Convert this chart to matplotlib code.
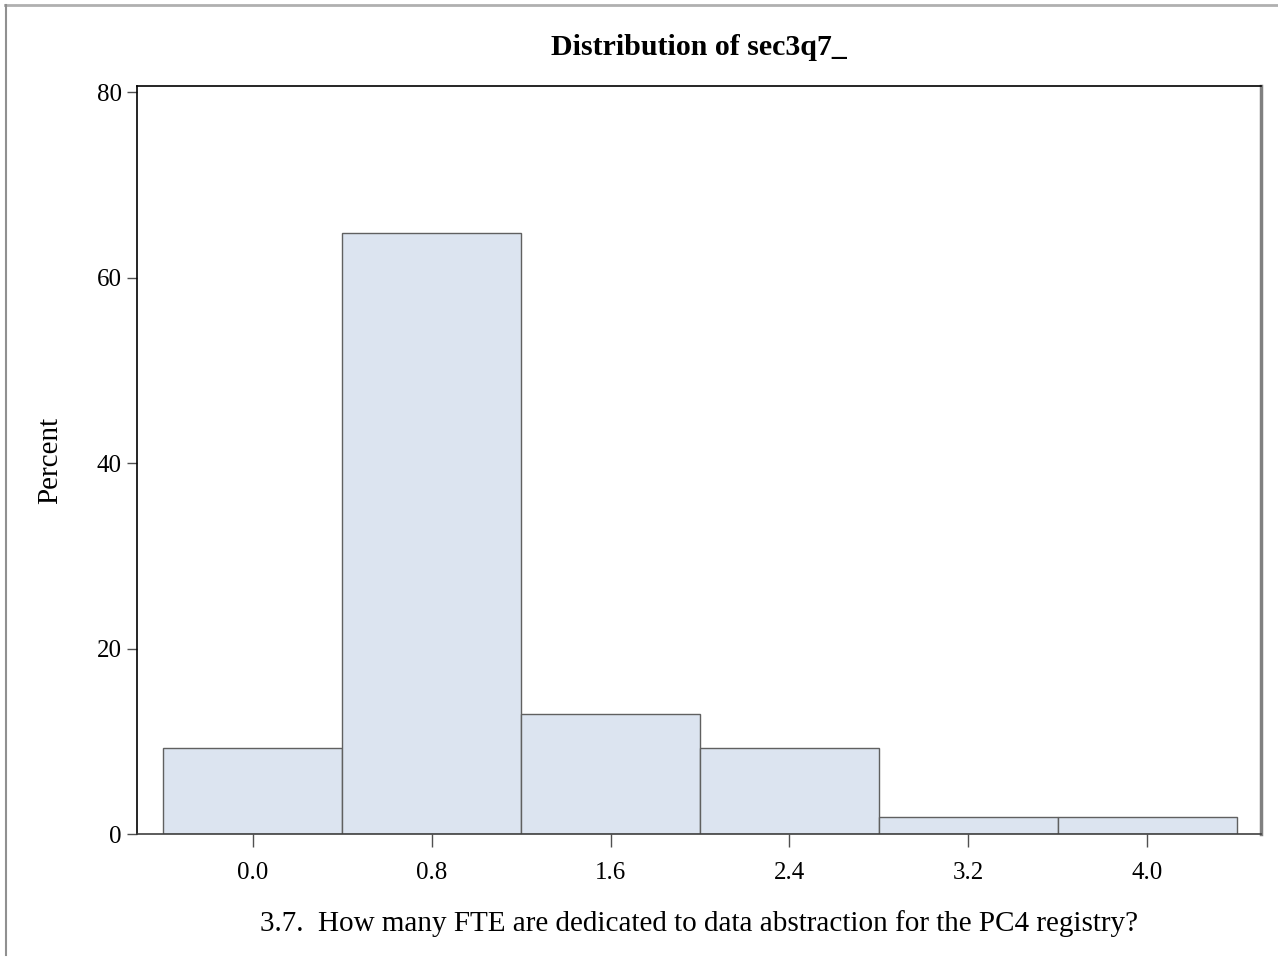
import numpy as np
import matplotlib.pyplot as plt
from matplotlib.lines import Line2D

# histogram bins (midpoints) and percent of responses
midpoints = [0.0, 0.8, 1.6, 2.4, 3.2, 4.0]
percent = [9.26, 64.81, 12.96, 9.26, 1.85, 1.85]
bin_width = 0.8
tick_labels = ["0.0", "0.8", "1.6", "2.4", "3.2", "4.0"]

plt.rcParams['font.family'] = ['Liberation Serif', 'DejaVu Serif']

fig = plt.figure(figsize=(12.78, 9.58), dpi=100)
ax = fig.add_axes([0.1072, 0.1294, 0.9867 - 0.1072, 0.9102 - 0.1294])

ax.bar(midpoints, percent, width=bin_width, color="#dce4f0",
       edgecolor="#606060", linewidth=1.0)

ax.set_xlim(-0.518, 4.509)
ax.set_ylim(0, 80.65)
ax.set_xticks(midpoints)
ax.set_xticklabels(tick_labels)
ax.set_yticks([0, 20, 40, 60, 80])

ax.tick_params(axis="y", length=7, width=1, color="#505050", labelsize=18, pad=4)
ax.tick_params(axis="x", length=9, width=1, color="#505050", labelsize=18, pad=11)

ax.spines["left"].set_color("black")
ax.spines["top"].set_color("black")
ax.spines["bottom"].set_color("#404040")
ax.spines["right"].set_color("#808080")
ax.spines["right"].set_linewidth(2.5)
for s in ["left", "top", "bottom"]:
    ax.spines[s].set_linewidth(1.2)

ax.set_title("Distribution of sec3q7_", fontsize=21.5, fontweight="bold", pad=22)
ax.set_xlabel("3.7.  How many FTE are dedicated to data abstraction for the PC4 registry?",
              fontsize=21, labelpad=19)
ax.set_ylabel("Percent", fontsize=21, labelpad=24)

# outer frame lines (top and left) like the original export
fig.add_artist(Line2D([0.004, 0.999], [0.9945, 0.9945], color="#b0b0b0", lw=2,
                      transform=fig.transFigure))
fig.add_artist(Line2D([0.0047, 0.0047], [0.003, 0.9945], color="#909090", lw=1.5,
                      transform=fig.transFigure))

fig.savefig("out.png", dpi=100)
